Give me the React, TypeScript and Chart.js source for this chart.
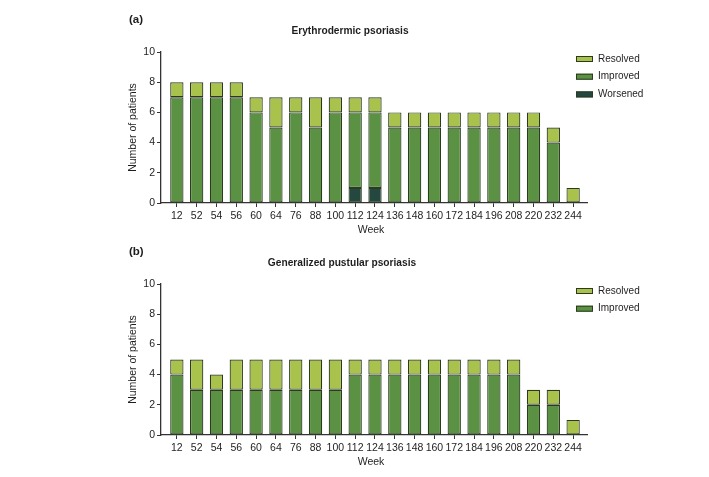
import React, { useEffect, useRef } from "react";
import { Chart, registerables } from "chart.js";

Chart.register(...registerables);

const FONT = 'Arial, "Liberation Sans", Helvetica, sans-serif';

// ---- data ----
const weeks = ["12", "52", "54", "56", "60", "64", "76", "88", "100", "112", "124", "136", "148", "160", "172", "184", "196", "208", "220", "232", "244"];

const eryWorsened = [0, 0, 0, 0, 0, 0, 0, 0, 0, 1, 1, 0, 0, 0, 0, 0, 0, 0, 0, 0, 0];
const eryImproved = [7, 7, 7, 7, 6, 5, 6, 5, 6, 5, 5, 5, 5, 5, 5, 5, 5, 5, 5, 4, 0];
const eryResolved = [1, 1, 1, 1, 1, 2, 1, 2, 1, 1, 1, 1, 1, 1, 1, 1, 1, 1, 1, 1, 1];

const gppImproved = [4, 3, 3, 3, 3, 3, 3, 3, 3, 4, 4, 4, 4, 4, 4, 4, 4, 4, 2, 2, 0];
const gppResolved = [1, 2, 1, 2, 2, 2, 2, 2, 2, 1, 1, 1, 1, 1, 1, 1, 1, 1, 1, 1, 1];

const yMin = 0;
const yMax = 10;
const yStep = 2;

// ---- styles ----
const COLORS = {
  Resolved: "#a9c24b",
  Improved: "#5b9142",
  Worsened: "#24483f",
};
const BORDER = "#2b3a20";
const AXIS = "#333333";
const TEXT = "#1e1e1e";

type Series = { label: "Resolved" | "Improved" | "Worsened"; values: number[] };

function makeDecor(panel: string, title: string, titleX: number) {
  return {
    id: "decor",
    afterDraw(chart: any) {
      const ctx = chart.ctx as CanvasRenderingContext2D;
      const ca = chart.chartArea;
      ctx.save();
      ctx.fillStyle = TEXT;
      ctx.textBaseline = "middle";

      ctx.font = `bold 11.5px ${FONT}`;
      ctx.textAlign = "left";
      ctx.fillText(panel, 129, 20);

      ctx.font = `bold 10.2px ${FONT}`;
      ctx.textAlign = "center";
      ctx.fillText(title, titleX, 31.5);

      ctx.font = `10.5px ${FONT}`;
      ctx.save();
      ctx.translate(133, (ca.top + ca.bottom) / 2);
      ctx.rotate(-Math.PI / 2);
      ctx.textAlign = "center";
      ctx.fillText("Number of patients", 0, 0);
      ctx.restore();

      ctx.textAlign = "center";
      ctx.fillText("Week", 371, 230);

      // legend (top-down = reverse of stack order)
      const ds = chart.data.datasets.slice().reverse();
      ds.forEach((d: any, i: number) => {
        const y = 59 + i * 17.7;
        ctx.fillStyle = d.backgroundColor;
        ctx.fillRect(576, y - 3, 17, 6);
        ctx.strokeStyle = BORDER;
        ctx.lineWidth = 1;
        ctx.strokeRect(576.5, y - 2.5, 16, 5);
        ctx.fillStyle = TEXT;
        ctx.textAlign = "left";
        ctx.font = `10px ${FONT}`;
        ctx.fillText(d.label, 598, y);
      });
      ctx.restore();
    },
  };
}

function Panel(props: { top: number; panel: string; title: string; titleX: number; series: Series[] }) {
  const ref = useRef<HTMLCanvasElement | null>(null);
  useEffect(() => {
    if (!ref.current) return;
    const datasets = props.series.map((s) => ({
      label: s.label,
      data: s.values.map((v, i) => ({ x: i, y: v === 0 ? null : v })),
      backgroundColor: COLORS[s.label],
      borderColor: BORDER,
      borderWidth: 1.2,
      borderSkipped: false,
      barPercentage: 0.84,
      categoryPercentage: 0.8,
    }));
    const chart = new Chart(ref.current, {
      type: "bar",
      data: { datasets: datasets as any },
      plugins: [makeDecor(props.panel, props.title, props.titleX)],
      options: {
        responsive: false,
        animation: false,
        layout: { padding: { left: 121, right: 122, top: 52, bottom: 0 } },
        plugins: { legend: { display: false }, tooltip: { enabled: false }, title: { display: false } },
        scales: {
          x: {
            type: "linear",
            stacked: true,
            offset: false,
            min: -0.8,
            max: weeks.length - 0.3,
            afterFit: (s: any) => {
              s.height = 37;
            },
            grid: { offset: false, drawOnChartArea: false, drawTicks: true, tickLength: 4, color: AXIS },
            border: { display: true, color: AXIS, width: 1.3 },
            ticks: {
              stepSize: 1,
              includeBounds: false,
              autoSkip: false,
              maxRotation: 0,
              padding: 3,
              color: TEXT,
              font: { family: FONT, size: 10.5 },
              callback: (v: any) => weeks[v as number] ?? "",
            },
          },
          y: {
            stacked: true,
            min: yMin,
            max: yMax,
            afterFit: (s: any) => {
              s.width = 40;
            },
            grid: { drawOnChartArea: false, drawTicks: true, tickLength: 4, color: AXIS },
            border: { display: true, color: AXIS, width: 1.3 },
            ticks: {
              stepSize: yStep,
              padding: 2,
              color: TEXT,
              font: { family: FONT, size: 10.5 },
            },
          },
        },
      } as any,
    });
    return () => chart.destroy();
  }, []);
  return (
    <canvas
      ref={ref}
      width={709}
      height={240}
      style={{ position: "absolute", left: 0, top: props.top, width: 709, height: 240 }}
    />
  );
}

export default function App() {
  return (
    <div style={{ position: "absolute", left: 0, top: 0, width: 709, height: 477, background: "#ffffff" }}>
      <Panel
        top={0}
        panel="(a)"
        title="Erythrodermic psoriasis"
        titleX={350}
        series={[
          { label: "Worsened", values: eryWorsened },
          { label: "Improved", values: eryImproved },
          { label: "Resolved", values: eryResolved },
        ]}
      />
      <Panel
        top={232}
        panel="(b)"
        title="Generalized pustular psoriasis"
        titleX={342}
        series={[
          { label: "Improved", values: gppImproved },
          { label: "Resolved", values: gppResolved },
        ]}
      />
    </div>
  );
}
